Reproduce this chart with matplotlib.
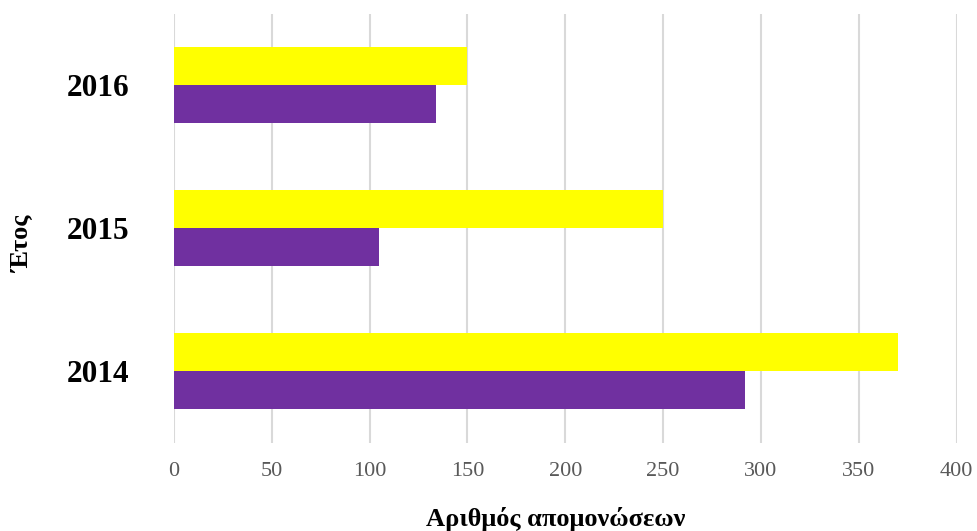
import matplotlib
matplotlib.use("Agg")
import matplotlib.pyplot as plt
import numpy as np

years = ["2014", "2015", "2016"]
yellow_values = [370, 250, 150]
purple_values = [292, 105, 134]
x_ticks = [0, 50, 100, 150, 200, 250, 300, 350, 400]

plt.rcParams['font.family'] = ['Liberation Serif', 'DejaVu Serif']

fig = plt.figure(figsize=(9.77, 5.31), dpi=100)
ax = fig.add_axes([174 / 977, 1 - 442.5 / 531, (956.5 - 174) / 977, 429 / 531])

pos = np.arange(len(years))
h = 0.2625

ax.barh(pos + h / 2, yellow_values, height=h, color="#FFFF00", zorder=3)
ax.barh(pos - h / 2, purple_values, height=h, color="#7030A0", zorder=3)

ax.set_xlim(0, 400)
ax.set_ylim(-0.5, 2.5)
ax.set_xticks(x_ticks)
ax.set_xticklabels([str(t) for t in x_ticks], fontsize=16, color="#595959")
ax.set_yticks(pos)
ax.set_yticklabels(years, fontsize=22.5, fontweight="bold", color="black")
ax.tick_params(axis="x", length=0, pad=14)
ax.tick_params(axis="y", length=0, pad=32)

ax.grid(axis="x", color="#d9d9d9", linewidth=1.5, zorder=0)
for s in ax.spines.values():
    s.set_visible(False)

fig.text(556 / 977, 1 - 507 / 531, "Αριθμός απομονώσεων", fontsize=19,
         fontweight="bold", ha="center", va="top")
fig.text(22 / 977, 1 - 244 / 531, "Έτος", fontsize=19, fontweight="bold",
         ha="center", va="center", rotation=90)

fig.savefig("out.png", dpi=100)
